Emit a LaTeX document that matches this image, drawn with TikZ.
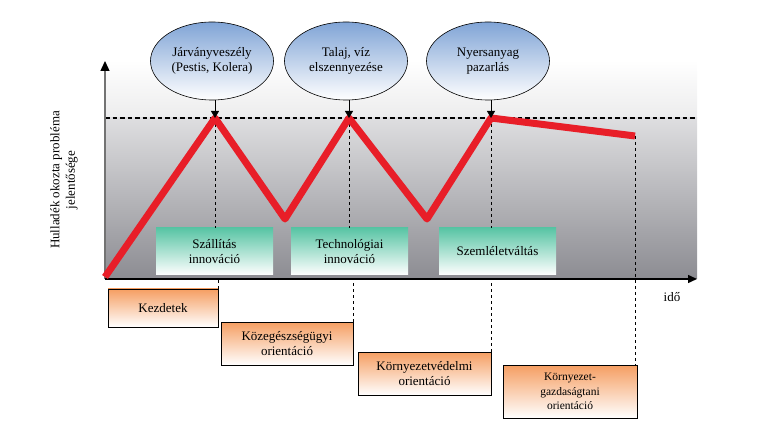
\documentclass[tikz,border=0pt]{standalone}
\usepackage{fontspec}
\setmainfont{Liberation Serif}
\usetikzlibrary{arrows.meta,shapes.geometric}
\definecolor{redline}{RGB}{232,30,40}
\definecolor{ellblue}{RGB}{128,164,214}
\definecolor{boxteal}{RGB}{88,196,164}
\definecolor{boxorange}{RGB}{245,158,98}
\definecolor{bgtop}{RGB}{222,222,224}
\definecolor{bgbot}{RGB}{140,140,146}
\definecolor{bgmid}{RGB}{236,236,237}
\tikzset{
  txt/.style={font=\fontsize{13}{15.5}\selectfont, align=center},
  cause/.style={ellipse, draw=black, line width=0.6pt, top color=ellblue, bottom color=white,
    minimum width=123pt, minimum height=78pt, inner sep=0pt, txt},
  innov/.style={rectangle, top color=boxteal, bottom color=white, draw=none,
    minimum width=117pt, minimum height=47pt, inner sep=0pt, txt},
  phase/.style={rectangle, draw=black, line width=0.7pt, top color=boxorange, bottom color=white,
    minimum width=#1, inner sep=0pt, txt},
  vdash/.style={black, line width=0.6pt, dash pattern=on 3pt off 3pt},
  hdash/.style={black, line width=1.1pt, dash pattern=on 4.5pt off 3pt},
  curve/.style={redline, line width=7pt, line join=round},
  causearrow/.style={black, line width=0.8pt, -{Triangle[width=8pt,length=7pt]}},
}
\begin{document}
\begin{tikzpicture}[x=1pt,y=-1pt]
\useasboundingbox (0,0) rectangle (781,435);
% background
\shade[top color=white, bottom color=bgmid] (105,60) rectangle (697,118);
\shade[top color=bgtop, bottom color=bgbot] (105,118) rectangle (697,279);
% key coordinates
\coordinate (O) at (105,279);
\coordinate (ytip) at (105,61);
\coordinate (xtip) at (697,279);
\coordinate (s0) at (105,277);
\coordinate (p1) at (215,118);
\coordinate (v1) at (285,219);
\coordinate (p2) at (349,118);
\coordinate (v2) at (427,219);
\coordinate (p3) at (491,118);
\coordinate (p4) at (635,136);
\coordinate (hend) at (697,118);
% horizontal dashed level
\draw[hdash] (105,118) -- (hend);
% innovation boxes
\node[innov] (g1) at (214.5,251.5) {Szállítás\\innováció};
\node[innov] (g2) at (349.5,251.5) {Technológiai\\innováció};
\node[innov] (g3) at (497.5,251.5) {Szemléletváltás};
% vertical dashed lines above axis
\draw[vdash] (p1) -- (p1 |- g1.north);
\draw[vdash] (p2) -- (p2 |- g2.north);
\draw[vdash] (p3) -- (p3 |- g3.north);
% phase boxes
\node[phase=110pt, minimum height=38pt] (o1) at (163,308) {Kezdetek};
\node[phase=132pt, minimum height=43pt] (o2) at (287,343.5) {Közegészségügyi\\orientáció};
\node[phase=133pt, minimum height=43pt] (o3) at (424.5,373.5) {Környezetvédelmi\\orientáció};
\node[phase=134pt, minimum height=53pt, font=\fontsize{11.5}{14.5}\selectfont] (o4) at (570,391.5) {Környezet-\\gazdaságtani\\orientáció};
% vertical dashed lines below axis
\draw[vdash] (o1.north east) -- (o1.north east |- O);
\draw[vdash] (o2.north east) -- (o2.north east |- O);
\draw[vdash] (o3.north east) -- (o3.north east |- O);
\draw[vdash] (p4) -- (p4 |- o4.north);
% axes
\draw[line width=1.3pt, color=black!55, -{Triangle[width=9pt,length=10pt,black]}] (O) -- (ytip);
\draw[line width=1.5pt, black, -{Triangle[width=8pt,length=9pt]}] (O) -- (xtip);
% red curve
\draw[curve] (s0) -- (p1) -- (v1) -- (p2) -- (v2) -- (p3) -- (p4);
% causes
\node[cause] (e1) at (212,61) {Járványveszély\\(Pestis, Kolera)};
\node[cause] (e2) at (346,61) {Talaj, víz\\elszennyezése};
\node[cause] (e3) at (488,61) {Nyersanyag\\pazarlás};
\draw[causearrow] (p1 |- e1.south) -- (p1);
\draw[causearrow] (p2 |- e2.south) -- (p2);
\draw[causearrow] (p3 |- e3.south) -- (p3);
% labels
\node[txt, anchor=center] (ido) at (672,297) {idő};
\node[txt, rotate=90, anchor=center] (ylab) at (64,180) {Hulladék okozta probléma\\jelentősége};
\end{tikzpicture}
\end{document}
